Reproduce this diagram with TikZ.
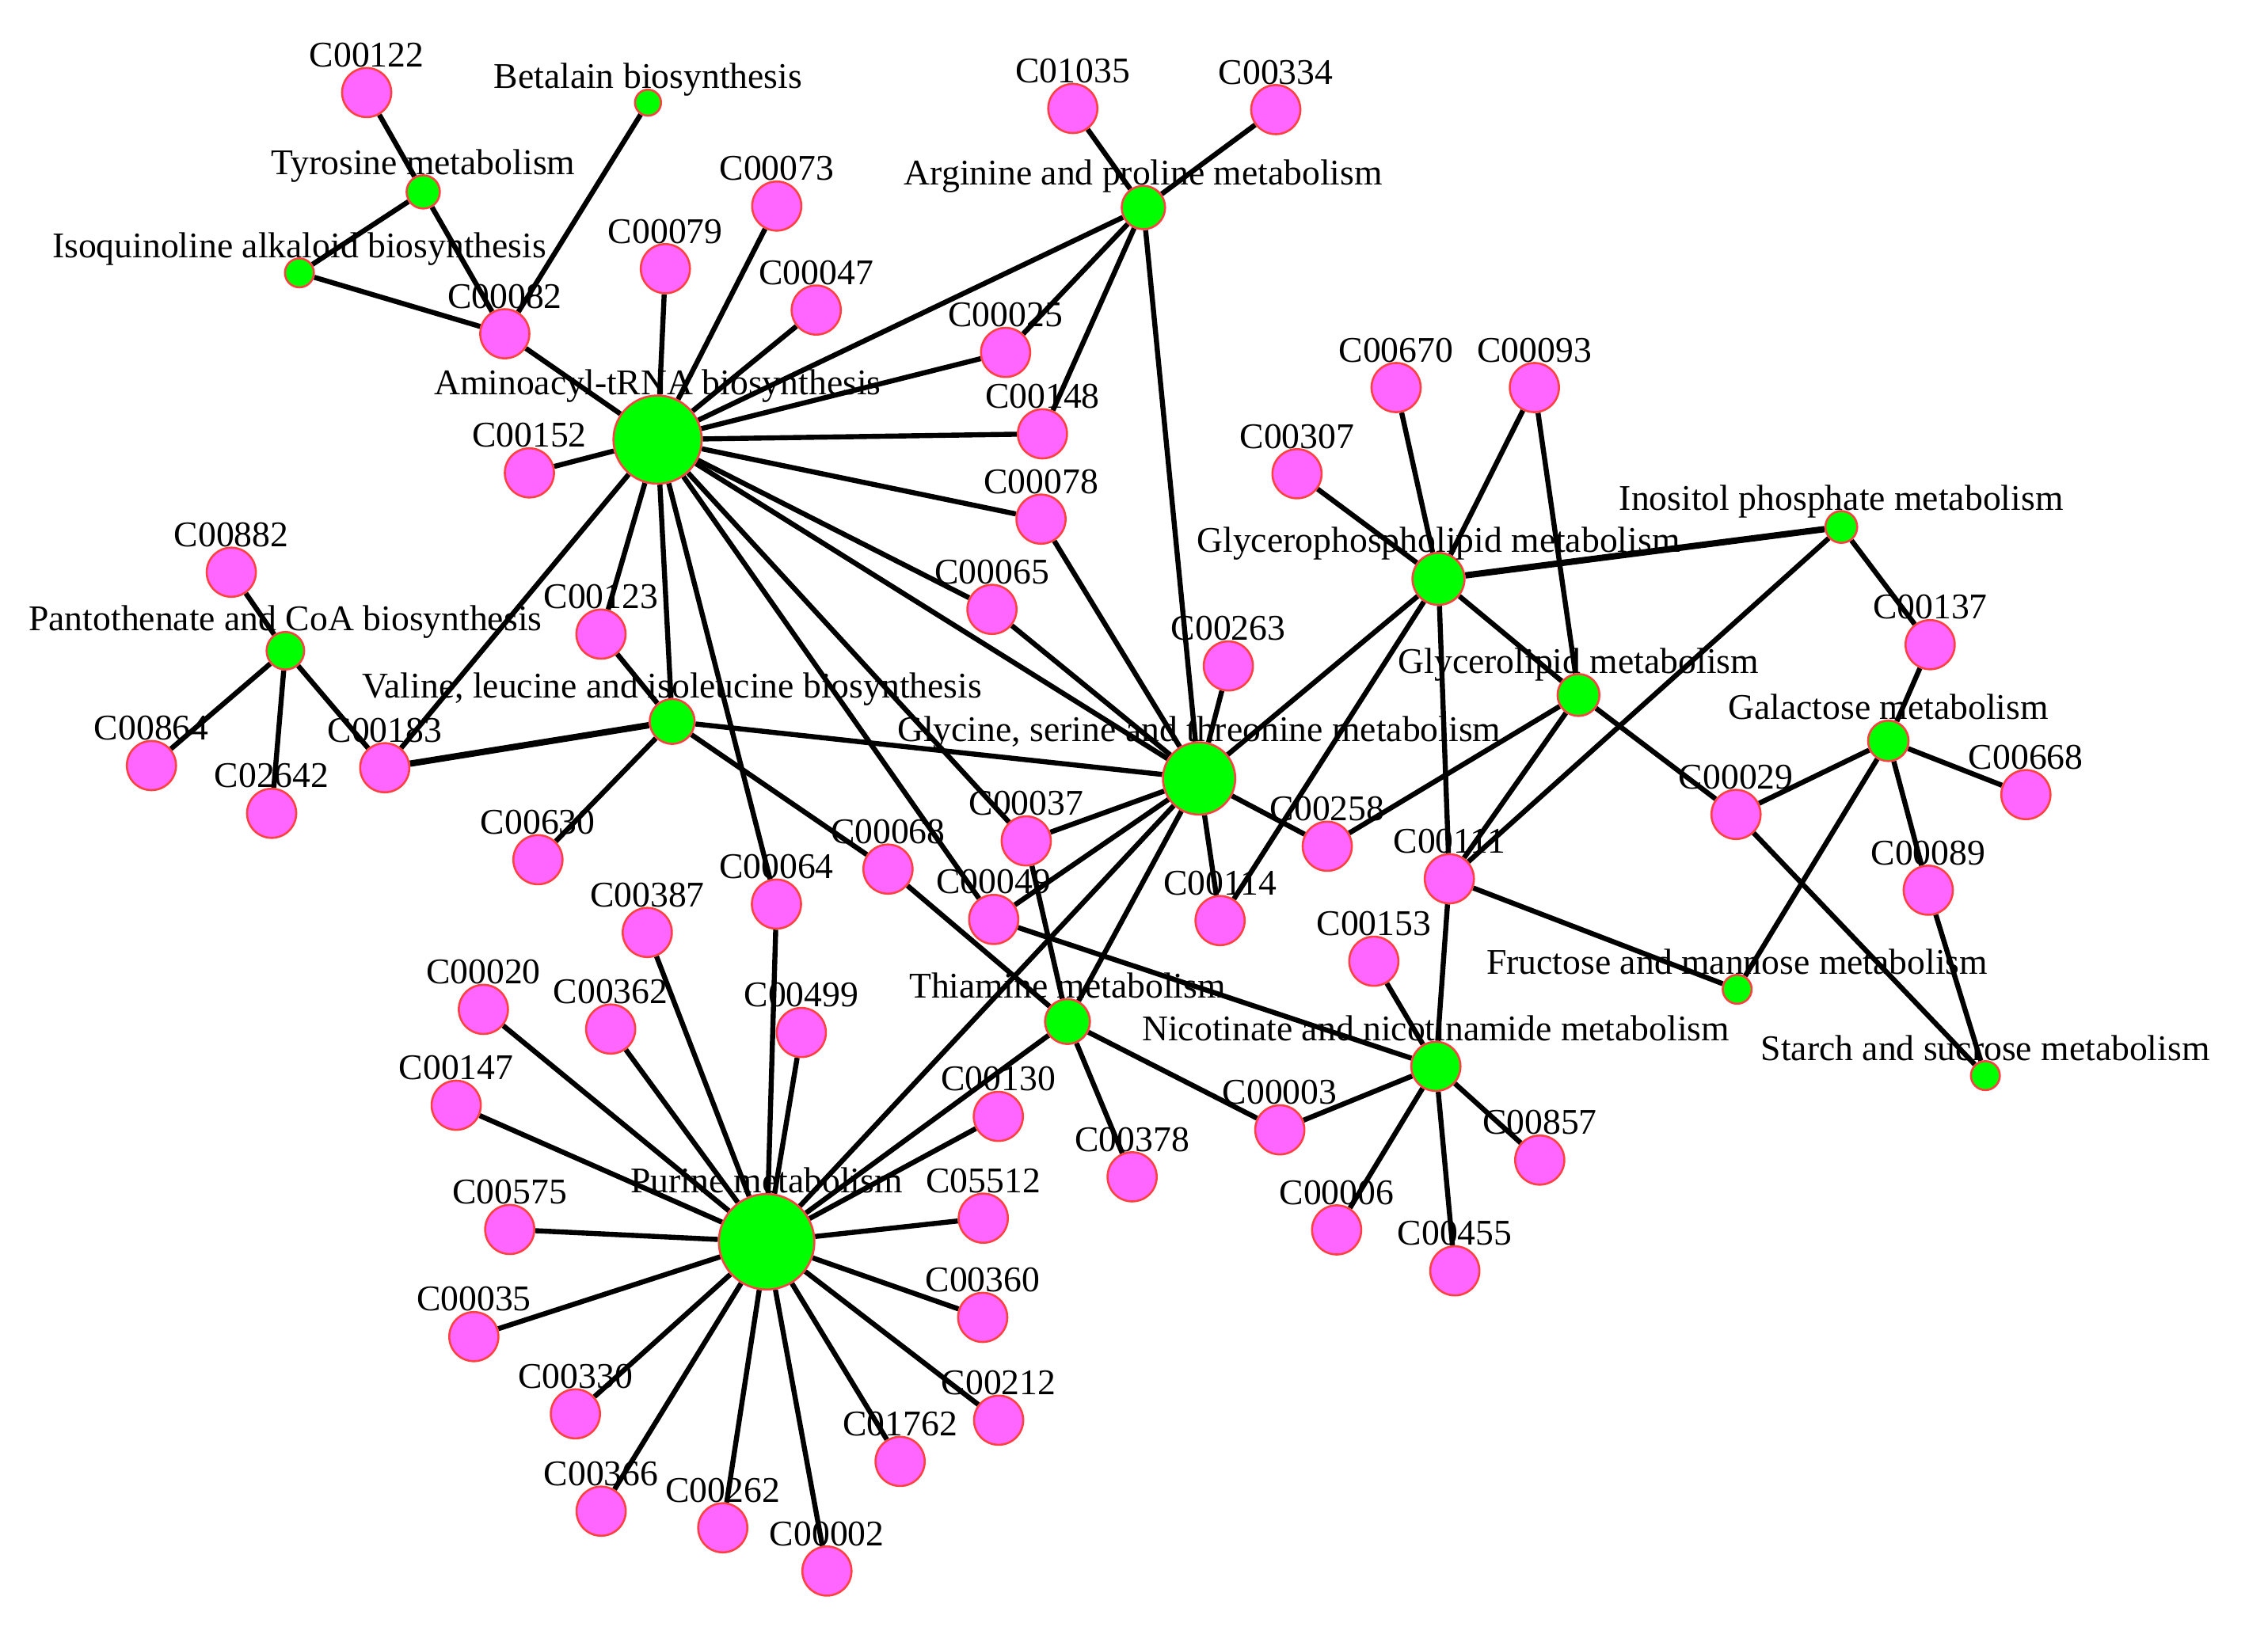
\documentclass[tikz,border=0pt]{standalone}
\usepackage{fontspec}
\setmainfont{Liberation Serif}
\usetikzlibrary{backgrounds}
\definecolor{ngreen}{RGB}{0,255,0}
\definecolor{npink}{RGB}{255,102,255}
\definecolor{nborder}{RGB}{255,64,64}
\newcommand{\pk}[2]{\node[pw,label={[lab]90:#1}] (#1) at (#2) {};}
\newcommand{\gr}[4]{\node[gn=#3pt,label={[lab]90:{#4}}] (#1) at (#2) {};}
\begin{document}
\begin{tikzpicture}[x=0.5pt,y=-0.5pt,
  every node/.style={font=\fontsize{12.5}{15}\selectfont},
  pw/.style={circle,draw=nborder,line width=0.7pt,fill=npink,minimum size=17pt,inner sep=0pt},
  gn/.style={circle,draw=nborder,line width=0.7pt,fill=ngreen,minimum size=#1,inner sep=0pt},
  lab/.style={anchor=base,inner sep=0pt,text=black},
  edge/.style={line width=1.75pt,black},
  thk/.style={line width=2.2pt,black}]
\useasboundingbox (0,0) rectangle (1568,1135);
% pathway (green) nodes
\gr{AA}{454.6,304}{30.5}{Aminoacyl-tRNA biosynthesis}
\gr{PU}{530,858.7}{33}{Purine metabolism}
\gr{GS}{829,538.3}{25}{Glycine, serine and threonine metabolism}
\gr{AP}{790.5,143.5}{15}{Arginine and proline metabolism}
\gr{TY}{292.6,132.7}{11.5}{Tyrosine metabolism}
\gr{BE}{448,71}{9}{Betalain biosynthesis}
\gr{IQ}{207,188.7}{10}{Isoquinoline alkaloid biosynthesis}
\gr{PA}{197.3,450}{13}{Pantothenate and CoA biosynthesis}
\gr{VL}{464.7,498.9}{15.5}{Valine, leucine and isoleucine biosynthesis}
\gr{GP}{994.5,400.3}{18}{Glycerophospholipid metabolism}
\gr{IN}{1273,364.4}{11}{Inositol phosphate metabolism}
\gr{GL}{1091.3,480.6}{14.5}{Glycerolipid metabolism}
\gr{GA}{1305.5,512.3}{14}{Galactose metabolism}
\gr{FR}{1201,684.1}{10}{Fructose and mannose metabolism}
\gr{ST}{1372.6,743.8}{10}{Starch and sucrose metabolism}
\gr{TH}{738,706.4}{15.5}{Thiamine metabolism}
\gr{NI}{992.7,737.4}{17}{Nicotinate and nicotinamide metabolism}
% compound (pink) nodes
\pk{C00122}{253.5,64}
\pk{C00079}{460,185.8}
\pk{C00073}{537,142.5}
\pk{C00047}{564.3,214.4}
\pk{C00082}{349,230.8}
\pk{C00152}{366,327}
\pk{C01035}{741.7,75}
\pk{C00334}{882,75.8}
\pk{C00025}{695.2,243.7}
\pk{C00148}{720.7,300}
\pk{C00078}{719.7,359}
\pk{C00670}{965.2,268}
\pk{C00093}{1060.8,268}
\pk{C00307}{896.7,327.6}
\pk{C00065}{685.8,421.4}
\pk{C00263}{849.2,460.5}
\pk{C00137}{1334.4,445.8}
\pk{C00668}{1400.6,549.5}
\pk{C00029}{1200.2,563.2}
\pk{C00089}{1333.1,615.6}
\pk{C00111}{1002,607.7}
\pk{C00153}{949.8,664.7}
\pk{C00857}{1064.5,802.2}
\pk{C00455}{1005.8,878.8}
\pk{C00006}{924.1,850.5}
\pk{C00003}{884.8,781.3}
\pk{C00378}{782.7,813.8}
\pk{C00258}{917.6,585.2}
\pk{C00114}{843.5,636.6}
\pk{C00037}{709.5,581.5}
\pk{C00068}{613.9,601}
\pk{C00064}{536.8,625.2}
\pk{C00049}{687,635.8}
\pk{C00882}{159.9,395.7}
\pk{C00123}{415.5,438.5}
\pk{C00864}{104.7,529.4}
\pk{C00183}{266,530.9}
\pk{C02642}{187.8,562.4}
\pk{C00630}{371.9,594.5}
\pk{C00387}{447.5,644.8}
\pk{C00020}{334.2,698}
\pk{C00362}{422.2,711.6}
\pk{C00499}{554,714}
\pk{C00147}{315.4,764.3}
\pk{C00130}{690.2,772}
\pk{C00575}{352.4,850.2}
\pk{C05512}{679.8,842.4}
\pk{C00360}{679.4,911}
\pk{C00035}{327.6,924.3}
\pk{C00330}{397.8,977.7}
\pk{C00212}{690.4,982.1}
\pk{C01762}{622.3,1010.6}
\pk{C00366}{415.6,1045}
\pk{C00262}{499.7,1056.5}
\pk{C00002}{571.7,1086.4}
\begin{scope}[on background layer]
\draw[edge] (TY) -- (C00122);
\draw[edge] (TY) -- (IQ);
\draw[edge] (TY) -- (C00082);
\draw[edge] (BE) -- (C00082);
\draw[edge] (IQ) -- (C00082);
\draw[edge] (C00082) -- (AA);
\foreach \t in {C00079,C00073,C00047,AP,C00025,C00148,C00152,C00078,C00065,GS,C00037,C00049,C00064,VL,C00123,C00183}
  \draw[edge] (AA) -- (\t);
\foreach \t in {C01035,C00334,C00025,C00148,GS}
  \draw[edge] (AP) -- (\t);
\foreach \t in {C00078,C00065,C00263,VL,C00037,C00049,C00258,C00114,TH,PU,GP}
  \draw[edge] (GS) -- (\t);
\foreach \t in {C00307,C00670,C00093,GL,C00114,C00111}
  \draw[edge] (GP) -- (\t);
\draw[thk] (GP) -- (IN);
\draw[edge] (C00093) -- (GL);
\foreach \t in {C00029,C00258,C00111}
  \draw[edge] (GL) -- (\t);
\draw[edge] (IN) -- (C00137);
\draw[edge] (IN) -- (C00111);
\foreach \t in {C00137,C00029,C00668,C00089,FR}
  \draw[edge] (GA) -- (\t);
\draw[edge] (C00029) -- (ST);
\draw[edge] (C00089) -- (ST);
\draw[edge] (C00111) -- (FR);
\foreach \t in {C00111,C00153,C00857,C00455,C00006,C00003,C00049}
  \draw[edge] (NI) -- (\t);
\foreach \t in {C00003,C00378,PU,C00037,C00068}
  \draw[edge] (TH) -- (\t);
\draw[edge] (VL) -- (C00068);
\draw[edge] (VL) -- (C00630);
\draw[thk] (VL) -- (C00183);
\draw[edge] (VL) -- (C00123);
\foreach \t in {C00882,C00864,C02642,C00183}
  \draw[edge] (PA) -- (\t);
\foreach \t in {C00387,C00064,C00020,C00362,C00499,C00147,C00130,C00575,C05512,C00360,C00035,C00330,C00212,C01762,C00366,C00262,C00002}
  \draw[edge] (PU) -- (\t);
\end{scope}
\end{tikzpicture}
\end{document}
